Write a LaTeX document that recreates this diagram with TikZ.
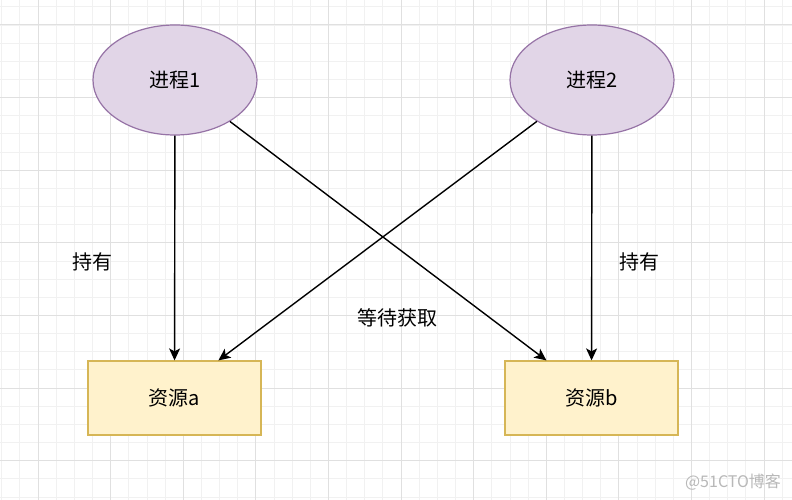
\documentclass[tikz,border=0pt]{standalone}
\usepackage{fontspec}
\newfontfamily\cjk{Noto Sans CJK SC}
\usetikzlibrary{shapes.geometric,arrows.meta}
\definecolor{procfill}{HTML}{E1D5E7}
\definecolor{procdraw}{HTML}{9673A6}
\definecolor{resfill}{HTML}{FFF2CC}
\definecolor{resdraw}{HTML}{D6B656}
\definecolor{gridminor}{HTML}{F1F1F1}
\definecolor{gridmajor}{HTML}{E0E0E0}
\tikzset{
  proc/.style={ellipse, draw=procdraw, fill=procfill, line width=1.2pt, minimum width=164pt, minimum height=110pt, inner sep=0pt, font=\cjk\fontsize{20}{20}\selectfont},
  res/.style={rectangle, draw=resdraw, fill=resfill, line width=1.2pt, minimum width=173pt, minimum height=74pt, inner sep=0pt, font=\cjk\fontsize{20}{20}\selectfont},
  lbl/.style={font=\cjk\fontsize{20}{20}\selectfont, inner sep=0pt},
  arr/.style={line width=1.4pt, -{Stealth[length=12pt,width=11pt,inset=3pt]}},
  minor/.style={gridminor, line width=0.8pt},
  major/.style={gridmajor, line width=1pt}
}
\begin{document}
\begin{tikzpicture}[x=1pt,y=-1pt]
\useasboundingbox (0,0) rectangle (792,500);
\fill[white] (0,0) rectangle (792,500);
\foreach \i in {0,...,44} {
  \draw[minor] ({1.7+\i*18.15},0) -- ++(0,500);
}
\foreach \i in {0,...,27} {
  \draw[minor] (0,{6.85+\i*18.15}) -- ++(792,0);
}
\foreach \i in {0,...,10} {
  \draw[major] ({38+\i*72.6},0) -- ++(0,500);
}
\foreach \i in {0,...,6} {
  \draw[major] (0,{25+\i*72.6}) -- ++(792,0);
}
\node[proc] (p1) at (175,80) {进程1};
\node[proc] (p2) at (592,80) {进程2};
\node[res] (ra) at (174.5,398) {资源a};
\node[res] (rb) at (591.5,398) {资源b};
\draw[arr] (p1) -- (ra);
\draw[arr] (p2) -- (rb);
\draw[arr] (p1) -- ([xshift=42pt]rb.north west);
\draw[arr] (p2) -- ([xshift=131pt]ra.north west);
\node[lbl] (h1) at (92,262) {持有};
\node[lbl] (h2) at (639,262) {持有};
\node[lbl] (w) at (397,318) {等待获取};
\node[font=\cjk\fontsize{16}{16}\selectfont, text=black!28, inner sep=0pt] (wm) at (733,482) {@51CTO博客};
\end{tikzpicture}
\end{document}
